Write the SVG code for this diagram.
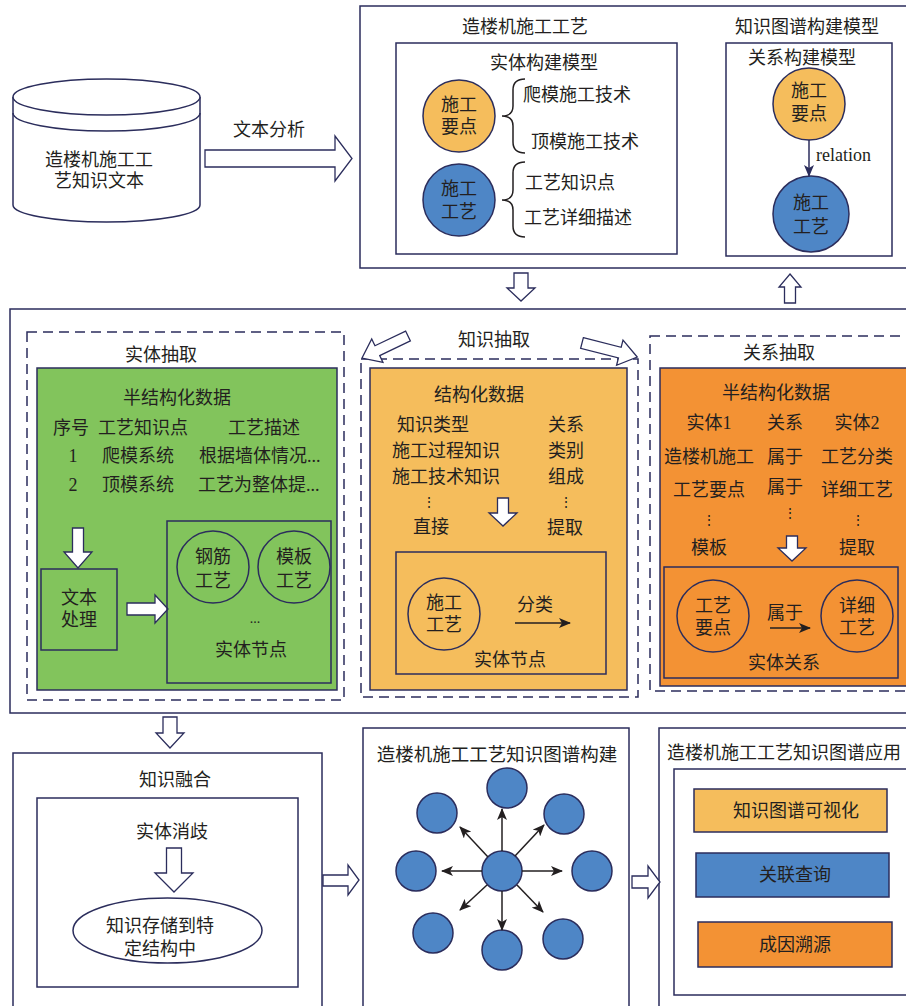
<svg xmlns="http://www.w3.org/2000/svg" width="906" height="1006" viewBox="0 0 906 1006">
<style>
text{font-family:"Liberation Serif","Noto Sans CJK SC",serif;font-size:18px;fill:#231F20;dominant-baseline:central}
.c{text-anchor:middle}
.b{fill:#fff;stroke:#2B2D5C;stroke-width:1.5}
.n{fill:none;stroke:#2B2D5C;stroke-width:1.5}
.d{fill:none;stroke:#2B2D5C;stroke-width:1.5;stroke-dasharray:10 6}
.ha{fill:#fff;stroke:#2B2D5C;stroke-width:1.3;stroke-linejoin:miter}
.lo{fill:#F5BD5C;stroke:#2B2D5C;stroke-width:1.5}
.bl{fill:#4E86C6;stroke:#2B2D5C;stroke-width:1.5}
.gr{fill:#82C45C;stroke:#2B2D5C;stroke-width:1.5}
.dor{fill:#F39234;stroke:#2B2D5C;stroke-width:1.5}
.cn{fill:none;stroke:#231F20;stroke-width:1.5}
.ar{stroke:#231F20;stroke-width:1.5;fill:none}
</style>
<defs>
<marker id="ah" markerWidth="12" markerHeight="10" refX="11" refY="5" orient="auto" markerUnits="userSpaceOnUse">
<path d="M0,0 L12,5 L0,10 L3,5 Z" fill="#231F20"/>
</marker>
<marker id="ahn" markerWidth="12" markerHeight="10" refX="11" refY="5" orient="auto" markerUnits="userSpaceOnUse">
<path d="M0,0 L12,5 L0,10 L3,5 Z" fill="#2B2D5C"/>
</marker>
</defs>

<!-- Source text cylinder -->
<g id="source">
<path class="b" d="M13,97 L13,205 A93.5,17 0 0 0 200,205 L200,97"/>
<ellipse class="b" cx="106.5" cy="97" rx="93.5" ry="18"/>
<path class="n" d="M13,113 A93.5,18 0 0 0 200,113"/>
<text class="c" x="99" y="160">造楼机施工工</text>
<text class="c" x="99" y="181">艺知识文本</text>
</g>

<!-- Top block: construction process -->
<g id="top-block">
<rect class="b" x="360" y="6" width="560" height="262"/>
<text class="c" x="525" y="27">造楼机施工工艺</text>
<text class="c" x="807" y="27">知识图谱构建模型</text>
</g>

<g id="entity-model">
<rect class="b" x="396" y="43" width="281" height="211"/>
<text class="c" x="544" y="63">实体构建模型</text>
<circle class="lo" cx="459" cy="116" r="36"/>
<text class="c" x="459" y="105">施工</text>
<text class="c" x="459" y="127">要点</text>
<path class="cn" d="M525,79 Q513,79 513,90 L513,106 Q513,116 502,116 Q513,116 513,126 L513,142 Q513,153 525,153"/>
<text x="523" y="95">爬模施工技术</text>
<text x="531" y="142">顶模施工技术</text>
<circle class="bl" cx="459" cy="200" r="36"/>
<text class="c" x="459" y="189">施工</text>
<text class="c" x="459" y="212">工艺</text>
<path class="cn" d="M525,162 Q513,162 513,173 L513,190 Q513,200 502,200 Q513,200 513,210 L513,226 Q513,237 525,237"/>
<text x="525" y="183">工艺知识点</text>
<text x="524" y="218">工艺详细描述</text>
</g>

<g id="relation-model">
<rect class="b" x="726" y="43" width="166" height="213"/>
<text class="c" x="802" y="58">关系构建模型</text>
<circle class="lo" cx="809" cy="104" r="36"/>
<text class="c" x="809" y="91">施工</text>
<text class="c" x="809" y="114">要点</text>
<circle class="bl" cx="811" cy="214" r="38"/>
<text class="c" x="811" y="203">施工</text>
<text class="c" x="811" y="227">工艺</text>
<text x="816" y="155">relation</text>
</g>

<!-- Middle block: knowledge extraction -->
<g id="mid-block">
<rect class="b" x="10" y="309" width="910" height="404"/>
<text class="c" x="494" y="340">知识抽取</text>
</g>

<g id="entity-extraction">
<rect class="d" x="27" y="332" width="317" height="368"/>
<text class="c" x="161" y="355">实体抽取</text>
<rect class="gr" x="37" y="368" width="300" height="322"/>
<text class="c" x="177" y="398">半结构化数据</text>
<text x="53" y="428">序号</text>
<text x="98" y="428">工艺知识点</text>
<text x="228" y="428">工艺描述</text>
<text class="c" x="73" y="456">1</text>
<text x="102" y="456">爬模系统</text>
<text x="199" y="456">根据墙体情况...</text>
<text class="c" x="73" y="485">2</text>
<text x="102" y="485">顶模系统</text>
<text x="198" y="485">工艺为整体提...</text>
<polygon class="ha" points="72.5,528 83.5,528 83.5,552 92,552 78,568 64,552 72.5,552"/>
<rect class="n" x="41" y="569" width="76" height="81"/>
<text class="c" x="79" y="598">文本</text>
<text class="c" x="79" y="620">处理</text>
<polygon class="ha" points="127,603 155,603 155,595 168,609 155,623 155,615 127,615"/>
<rect class="n" x="167" y="521" width="164" height="162"/>
<circle class="n" cx="213" cy="567" r="36"/>
<text class="c" x="213" y="557">钢筋</text>
<text class="c" x="213" y="581">工艺</text>
<circle class="n" cx="294" cy="567" r="36"/>
<text class="c" x="294" y="557">模板</text>
<text class="c" x="294" y="581">工艺</text>
<text class="c" x="255" y="618" style="font-size:14px">...</text>
<text class="c" x="251" y="650">实体节点</text>
</g>

<g id="structured-extraction">
<rect class="d" x="361" y="359" width="277" height="338"/>
<rect class="lo" x="370" y="368" width="257" height="322"/>
<text class="c" x="479" y="395">结构化数据</text>
<text x="397" y="425">知识类型</text>
<text x="548" y="425">关系</text>
<text x="392" y="451">施工过程知识</text>
<text x="548" y="451">类别</text>
<text x="392" y="477">施工技术知识</text>
<text x="548" y="477">组成</text>
<text class="c" x="429" y="502" style="font-size:14px">⋮</text>
<text class="c" x="566" y="502" style="font-size:14px">⋮</text>
<text x="413" y="527">直接</text>
<text x="547" y="528">提取</text>
<polygon class="ha" points="497.5,498 508.5,498 508.5,513 517,513 503,526 489,513 497.5,513"/>
<rect class="n" x="396" y="552" width="210" height="122"/>
<circle class="n" cx="444" cy="614" r="36"/>
<text class="c" x="444" y="603">施工</text>
<text class="c" x="444" y="625">工艺</text>
<text class="c" x="535" y="605">分类</text>
<line class="ar" x1="515" y1="623" x2="570" y2="623" marker-end="url(#ah)"/>
<text class="c" x="510" y="660">实体节点</text>
</g>

<g id="relation-extraction">
<rect class="d" x="650" y="336" width="270" height="355"/>
<text class="c" x="779" y="353">关系抽取</text>
<rect class="dor" x="660" y="368" width="260" height="318"/>
<text class="c" x="776" y="393">半结构化数据</text>
<text class="c" x="709" y="423">实体1</text>
<text class="c" x="785" y="423">关系</text>
<text class="c" x="857" y="423">实体2</text>
<text class="c" x="709" y="457">造楼机施工</text>
<text class="c" x="785" y="457">属于</text>
<text class="c" x="857" y="457">工艺分类</text>
<text class="c" x="709" y="490">工艺要点</text>
<text class="c" x="785" y="487">属于</text>
<text class="c" x="857" y="490">详细工艺</text>
<text class="c" x="709" y="520" style="font-size:14px">⋮</text>
<text class="c" x="790" y="513" style="font-size:14px">⋮</text>
<text class="c" x="858" y="520" style="font-size:14px">⋮</text>
<text class="c" x="709" y="548">模板</text>
<text class="c" x="857" y="548">提取</text>
<polygon class="ha" points="786.5,536 797.5,536 797.5,548 806,548 792,561 778,548 786.5,548"/>
<rect class="n" x="664" y="567" width="234" height="111"/>
<circle class="n" cx="713" cy="616" r="36"/>
<text class="c" x="713" y="606">工艺</text>
<text class="c" x="713" y="628">要点</text>
<circle class="n" cx="857" cy="616" r="36"/>
<text class="c" x="857" y="606">详细</text>
<text class="c" x="857" y="628">工艺</text>
<text class="c" x="785" y="613">属于</text>
<line class="ar" x1="770" y1="628" x2="810" y2="628" marker-end="url(#ah)"/>
<text class="c" x="784" y="663">实体关系</text>
</g>

<!-- Bottom row -->
<g id="fusion">
<rect class="b" x="13" y="753" width="309" height="270"/>
<text class="c" x="175" y="780">知识融合</text>
<rect class="n" x="37" y="798" width="261" height="189"/>
<text class="c" x="172" y="832">实体消歧</text>
<polygon class="ha" points="166.5,848 181.5,848 181.5,873 193,873 174,892 155,873 166.5,873"/>
<ellipse class="b" cx="167.5" cy="930.5" rx="94.5" ry="32.5"/>
<text class="c" x="160" y="926">知识存储到特</text>
<text class="c" x="160" y="949">定结构中</text>
</g>

<g id="kg-build">
<rect class="b" x="363" y="728" width="266" height="300"/>
<text class="c" x="497" y="755" style="font-size:18.5px">造楼机施工工艺知识图谱构建</text>
<circle class="bl" cx="502" cy="871" r="20"/>
<circle class="bl" cx="507" cy="788" r="20"/>
<circle class="bl" cx="437" cy="813" r="20"/>
<circle class="bl" cx="564" cy="814" r="20"/>
<circle class="bl" cx="416" cy="871" r="20"/>
<circle class="bl" cx="592" cy="871" r="20"/>
<circle class="bl" cx="433" cy="933" r="20"/>
<circle class="bl" cx="502" cy="950" r="20"/>
<circle class="bl" cx="563" cy="939" r="20"/>
</g>

<g id="kg-app">
<rect class="b" x="659" y="728" width="270" height="300"/>
<text x="667" y="753" style="font-size:18px">造楼机施工工艺知识图谱应用</text>
<rect class="n" x="674" y="769" width="250" height="226"/>
<rect class="lo" x="694" y="789" width="193" height="43"/>
<text class="c" x="796" y="811">知识图谱可视化</text>
<rect class="bl" x="696" y="853" width="193" height="44"/>
<text class="c" x="795" y="875">关联查询</text>
<rect class="dor" x="698" y="922" width="194" height="45"/>
<text class="c" x="795" y="945">成因溯源</text>
</g>

<!-- Connectors -->
<g id="connectors">
<polygon class="ha" points="205,150 335,150 335,136 352,158.5 335,181 335,167 205,167"/>
<text class="c" x="269" y="130">文本分析</text>
<line x1="809" y1="140" x2="809" y2="176" stroke="#2B2D5C" stroke-width="1.5" marker-end="url(#ahn)"/>
<polygon class="ha" points="514,273 528,273 528,288 535,288 521,301 507,288 514,288"/>
<polygon class="ha" points="790,274 801,287 795.5,287 795.5,303 784.5,303 784.5,287 779,287"/>
<polygon class="ha" transform="translate(408,336) rotate(154.4)" points="0,-5.5 34,-5.5 34,-13 51,0 34,13 34,5.5 0,5.5"/>
<polygon class="ha" transform="translate(582,343) rotate(14.3)" points="0,-5.5 39,-5.5 39,-13 57,0 39,13 39,5.5 0,5.5"/>
<polygon class="ha" points="163,717 177,717 177,733 184,733 170,748 156,733 163,733"/>
<polygon class="ha" points="323,875 348,875 348,865 359,880 348,895 348,886 323,886"/>
<polygon class="ha" points="632,876 648,876 648,866 660,882 648,898 648,888 632,888"/>
<line class="ar" x1="502" y1="851" x2="502" y2="809" marker-end="url(#ah)"/>
<line class="ar" x1="488" y1="857" x2="460" y2="827" marker-end="url(#ah)"/>
<line class="ar" x1="515" y1="856" x2="544" y2="825" marker-end="url(#ah)"/>
<line class="ar" x1="482" y1="871" x2="442" y2="871" marker-end="url(#ah)"/>
<line class="ar" x1="522" y1="871" x2="562" y2="871" marker-end="url(#ah)"/>
<line class="ar" x1="487" y1="885" x2="460" y2="910" marker-end="url(#ah)"/>
<line class="ar" x1="502" y1="891" x2="502" y2="930" marker-end="url(#ah)"/>
<line class="ar" x1="517" y1="885" x2="543" y2="912" marker-end="url(#ah)"/>
</g>
</svg>
